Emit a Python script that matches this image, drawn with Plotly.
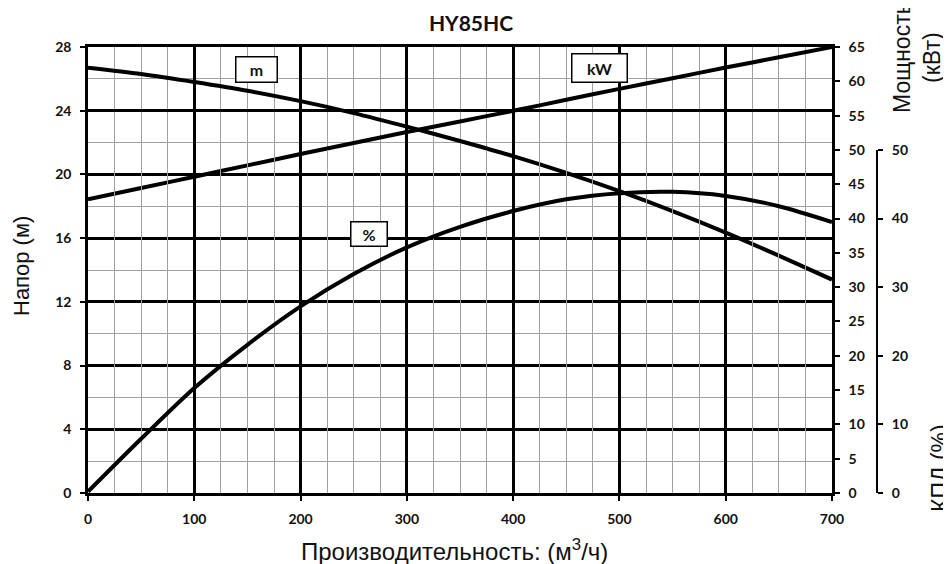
import plotly.graph_objects as go

# ---- data ----
flow = [0, 50, 100, 150, 200, 250, 300, 350, 400, 450, 500, 550, 600, 650, 700]
head_m = [26.7, 26.3, 25.8, 25.25, 24.6, 23.85, 23.0, 22.1, 21.15, 20.1, 18.95, 17.7, 16.35, 14.9, 13.4]
power_kw = [42.8, 44.45, 46.1, 47.75, 49.4, 51.0, 52.6, 54.15, 55.7, 57.3, 58.9, 60.45, 62.0, 63.5, 65.0]
eff_pct = [0.2, 7.9, 15.3, 21.6, 27.2, 31.9, 35.8, 38.8, 41.1, 42.8, 43.7, 43.9, 43.3, 41.8, 39.5]

title_text = "HY85HC"
x_title = "Производительность: (м<sup>3</sup>/ч)"
y_title = "Напор (м)"
y2_title = "Мощность<br>(кВт)"
y3_title = "КПД (%)"

# ---- geometry helpers ----
OFF = 8                      # page body margin offset
W, H = 951 - OFF, 564 - OFF
L, R, T, B = 88 - OFF, 900 - OFF, 47 - OFF, 493 - OFF  # paper area in figure pixels
PLOT_R = 832 - OFF           # right edge of main plotting area


def px(p):  # reference page pixel -> paper x
    return (p - OFF - L) / (R - L)


def py(p):  # reference page pixel -> paper y
    return (B - (p - OFF)) / (B - T)


tickfont = dict(family="Lato, Open Sans, sans-serif", size=14, color="#111", weight="bold")
txtfont = dict(family="Liberation Sans, Arial, sans-serif", size=23, color="#111")
line_style = dict(color="black", width=4, shape="spline", smoothing=0.8)

fig = go.Figure()
fig.add_trace(go.Scatter(x=flow, y=head_m, mode="lines", line=line_style,
                         xaxis="x", yaxis="y", showlegend=False, name="m"))
fig.add_trace(go.Scatter(x=flow, y=power_kw, mode="lines", line=line_style,
                         xaxis="x", yaxis="y2", showlegend=False, name="kW"))
fig.add_trace(go.Scatter(x=flow, y=eff_pct, mode="lines", line=line_style,
                         xaxis="x", yaxis="y3", showlegend=False, name="%"))

fig.update_layout(
    width=W, height=H, autosize=False,
    margin=dict(l=L, r=W - R, t=T, b=H - B, pad=0),
    paper_bgcolor="white", plot_bgcolor="rgba(0,0,0,0)",
    showlegend=False,
    title=dict(text=title_text, x=(471 - OFF) / W, y=1 - (24 - OFF) / H,
               xref="container", yref="container", xanchor="center", yanchor="middle",
               font=dict(family="Lato, Open Sans, sans-serif", size=21, color="#111", weight="bold")),
    xaxis=dict(domain=[0, (PLOT_R - L) / (R - L)], range=[0, 700], tick0=0, dtick=100,
               showgrid=True, gridcolor="black", gridwidth=2.5,
               minor=dict(dtick=25, showgrid=True, gridcolor="#a0a0a0", gridwidth=1),
               showline=True, linecolor="black", linewidth=2.5, mirror=True,
               ticks="outside", ticklen=5, tickwidth=2, tickcolor="black",
               ticklabelstandoff=6, tickfont=tickfont, zeroline=False, fixedrange=True),
    yaxis=dict(domain=[0, 1], range=[0, 28], tick0=0, dtick=4,
               showgrid=True, gridcolor="black", gridwidth=2.5,
               minor=dict(dtick=2, showgrid=True, gridcolor="#a0a0a0", gridwidth=1),
               showline=True, linecolor="black", linewidth=2.5, mirror=True,
               ticks="outside", ticklen=5, tickwidth=2, tickcolor="black",
               ticklabelstandoff=6, tickfont=tickfont, zeroline=False, fixedrange=True),
    yaxis2=dict(overlaying="y", side="right", anchor="x", range=[0, 65], tick0=0, dtick=5,
                showgrid=False, showline=True, linecolor="black", linewidth=2.5,
                ticks="outside", ticklen=5, tickwidth=2, tickcolor="black",
                ticklabelstandoff=6, tickfont=tickfont, zeroline=False, fixedrange=True),
    yaxis3=dict(anchor="free", position=px(877), side="right", domain=[0, 50 / 65],
                range=[0, 50], tick0=0, dtick=10,
                showgrid=False, showline=True, linecolor="black", linewidth=2,
                ticks="outside", ticklen=5, tickwidth=2, tickcolor="black",
                ticklabelstandoff=6, tickfont=tickfont, zeroline=False, fixedrange=True),
)

annos = [
    dict(text=y_title, x=px(21), y=py(266), textangle=-90, size=22),
    dict(text=x_title, x=px(454), y=py(550), textangle=0, size=24),
    dict(text=y2_title, x=px(917), y=py(58), textangle=-90, size=23),
    dict(text=y3_title, x=px(940), y=py(468), textangle=-90, size=23),
]
for a in annos:
    f = dict(txtfont)
    f["size"] = a.pop("size")
    fig.add_annotation(xref="paper", yref="paper", showarrow=False,
                       xanchor="center", yanchor="middle", font=f, **a)

# curve label boxes
boxfont = dict(family="Lato, Open Sans, sans-serif", size=16, color="#111", weight="bold")
labels = [("m", 159, 26.56, 40, 24), ("kW", 481.7, 26.71, 54, 27), ("%", 264.8, 16.29, 35, 23)]
for txt, lx, ly, bw, bh in labels:
    fig.add_annotation(xref="x", yref="y", x=lx, y=ly, text=txt, showarrow=False,
                       xanchor="center", yanchor="middle", width=bw, height=bh,
                       bgcolor="white", bordercolor="black", borderwidth=1.5, borderpad=0,
                       font=boxfont)

fig.write_html("out.html")
